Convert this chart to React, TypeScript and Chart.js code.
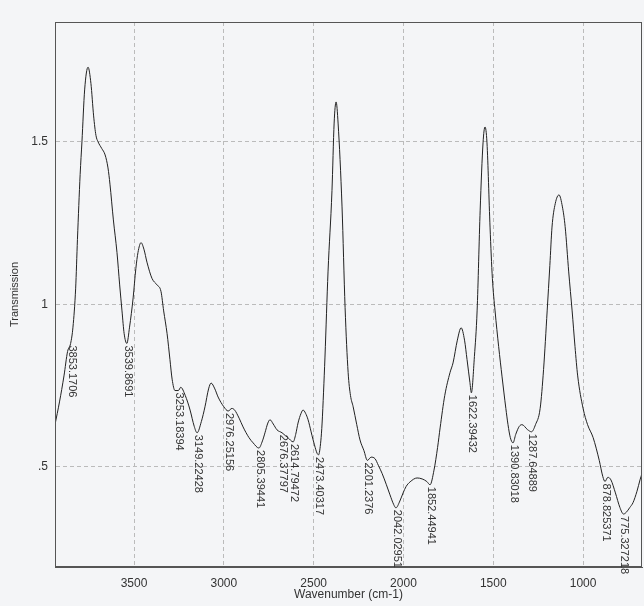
import React, { useEffect, useRef } from 'react';
import { Chart, registerables } from 'chart.js';

Chart.register(...registerables);

const WAVENUMBERS = [
  3940, 3915, 3890, 3870, 3853, 3840, 3825, 3815, 3800, 3790, 3775, 3756, 3740, 3725, 3712, 3700,
  3680, 3661, 3645, 3634, 3615, 3595, 3580, 3567, 3555, 3540, 3525, 3505, 3490, 3478, 3461, 3445,
  3428, 3400, 3372, 3350, 3335, 3316, 3300, 3288, 3272, 3253, 3240, 3215, 3188, 3165, 3149, 3125,
  3105, 3085, 3071, 3050, 3032, 3000, 2976, 2955, 2940, 2915, 2893, 2860, 2837, 2805, 2785, 2771,
  2755, 2743, 2725, 2704, 2676, 2655, 2643, 2614, 2600, 2587, 2570, 2559, 2545, 2531, 2515, 2503,
  2473, 2460, 2453, 2445, 2437, 2420, 2398, 2386, 2375, 2364, 2342, 2325, 2308, 2295, 2280, 2260,
  2242, 2220, 2201, 2180, 2158, 2140, 2119, 2095, 2075, 2055, 2042, 2020, 2002, 1985, 1963, 1924,
  1896, 1870, 1852, 1830, 1810, 1796, 1770, 1741, 1724, 1700, 1679, 1660, 1646, 1630, 1622, 1605,
  1590, 1573, 1557, 1546, 1535, 1518, 1505, 1490, 1470, 1451, 1430, 1418, 1405, 1390, 1375, 1355,
  1340, 1310, 1287, 1265, 1239, 1220, 1200, 1185, 1173, 1155, 1134, 1115, 1100, 1080, 1061, 1045,
  1030, 1000, 975, 944, 910, 890, 878, 862, 845, 820, 795, 775, 760, 740, 722, 700, 683, 672,
];

const TRANSMISSION = [
  0.63, 0.70, 0.78, 0.855, 0.88, 0.93, 1.05, 1.20, 1.40, 1.50, 1.66, 1.73, 1.68, 1.58, 1.52, 1.50,
  1.48, 1.46, 1.42, 1.37, 1.26, 1.16, 1.06, 0.98, 0.91, 0.88, 0.93, 1.02, 1.11, 1.16, 1.19, 1.17,
  1.13, 1.08, 1.06, 1.04, 0.98, 0.91, 0.83, 0.77, 0.735, 0.735, 0.745, 0.72, 0.675, 0.625, 0.605, 0.64,
  0.685, 0.74, 0.758, 0.74, 0.715, 0.685, 0.672, 0.68, 0.675, 0.65, 0.623, 0.59, 0.574, 0.558, 0.58, 0.605,
  0.635, 0.645, 0.632, 0.614, 0.605, 0.595, 0.59, 0.577, 0.60, 0.635, 0.665, 0.675, 0.665, 0.645, 0.61, 0.583,
  0.537, 0.58, 0.635, 0.73, 0.838, 1.10, 1.35, 1.558, 1.623, 1.558, 1.30, 0.99, 0.79, 0.72, 0.685, 0.63,
  0.583, 0.55, 0.52, 0.53, 0.525, 0.505, 0.48, 0.445, 0.414, 0.385, 0.374, 0.395, 0.42, 0.44, 0.454, 0.466,
  0.463, 0.455, 0.445, 0.49, 0.56, 0.62, 0.72, 0.79, 0.82, 0.89, 0.928, 0.89, 0.83, 0.76, 0.728, 0.84,
  0.98, 1.29, 1.497, 1.546, 1.497, 1.238, 1.08, 0.98, 0.87, 0.777, 0.68, 0.63, 0.59, 0.574, 0.60, 0.625,
  0.63, 0.615, 0.608, 0.63, 0.68, 0.80, 0.98, 1.12, 1.238, 1.31, 1.337, 1.30, 1.24, 1.10, 0.98, 0.87,
  0.78, 0.68, 0.63, 0.59, 0.52, 0.47, 0.455, 0.468, 0.46, 0.42, 0.375, 0.355, 0.36, 0.375, 0.39, 0.425, 0.46, 0.48,
];

const PEAK_LABELS = [
  '3853.1706', '3539.8691', '3253.18394', '3149.22428', '2976.25156', '2805.39441', '2676.37797',
  '2614.79472', '2473.40317', '2201.2376', '2042.02951', '1852.44941', '1622.39432', '1390.83018',
  '1287.64889', '878.825371', '775.327218',
];

const X_TICKS = [1000, 1500, 2000, 2500, 3000, 3500];
const Y_TICKS = [0.5, 1, 1.5];
const X_RANGE = [672, 3940];
const Y_RANGE = [0.192, 1.869];

const BG = '#f4f5f7';
const FONT = 'Arial, "Liberation Sans", Helvetica, sans-serif';

function nearestValue(wn: number): number {
  let best = 0;
  let bestD = Infinity;
  WAVENUMBERS.forEach((w, i) => {
    const d = Math.abs(w - wn);
    if (d < bestD) {
      bestD = d;
      best = i;
    }
  });
  return TRANSMISSION[best];
}

const framePlugin = {
  id: 'frame',
  beforeDraw(chart: any) {
    const { ctx, width, height } = chart;
    ctx.save();
    ctx.fillStyle = BG;
    ctx.fillRect(0, 0, width, height);
    ctx.restore();
  },
  afterDatasetsDraw(chart: any) {
    const { ctx, chartArea, scales } = chart;
    ctx.save();
    ctx.strokeStyle = '#555';
    ctx.lineWidth = 1;
    ctx.setLineDash([]);
    ctx.strokeRect(
      Math.round(chartArea.left) + 0.5,
      Math.round(chartArea.top) + 0.5,
      Math.round(chartArea.right - chartArea.left) - 1,
      Math.round(chartArea.bottom - chartArea.top) - 1
    );
    ctx.fillStyle = '#333';
    ctx.font = `11px ${FONT}`;
    ctx.textAlign = 'left';
    ctx.textBaseline = 'middle';
    PEAK_LABELS.forEach((label) => {
      const wn = parseFloat(label);
      const v = nearestValue(wn);
      const x = scales.x.getPixelForValue(wn);
      const y = scales.y.getPixelForValue(v);
      ctx.save();
      ctx.translate(x + 1, y + 2);
      ctx.rotate(Math.PI / 2);
      ctx.fillText(label, 0, 0);
      ctx.restore();
    });
    ctx.restore();
  },
};

export default function App() {
  const canvasRef = useRef<HTMLCanvasElement | null>(null);

  useEffect(() => {
    const canvas = canvasRef.current;
    if (!canvas) return;
    const points = WAVENUMBERS.map((w, i) => ({ x: w, y: TRANSMISSION[i] }));
    const chart = new Chart(canvas, {
      type: 'line',
      data: {
        datasets: [
          {
            data: points,
            borderColor: '#222',
            borderWidth: 1,
            pointRadius: 0,
            fill: false,
            cubicInterpolationMode: 'monotone',
          },
        ],
      },
      options: {
        animation: false,
        responsive: false,
        events: [],
        layout: { padding: { top: 22, right: 2, left: 0, bottom: 0 } },
        plugins: { legend: { display: false }, tooltip: { enabled: false } },
        scales: {
          x: {
            type: 'linear',
            reverse: true,
            min: X_RANGE[0],
            max: X_RANGE[1],
            afterBuildTicks: (s: any) => {
              s.ticks = X_TICKS.map((v) => ({ value: v }));
            },
            afterFit: (s: any) => {
              s.height = 39;
            },
            ticks: {
              autoSkip: false,
              maxRotation: 0,
              padding: 9,
              color: '#333',
              font: { size: 12, family: FONT },
              callback: (v: any) => String(v),
            },
            grid: { color: '#bbbbbb', lineWidth: 1, drawTicks: false },
            border: { display: true, color: '#555', width: 1, dash: [4, 3] },
            title: {
              display: true,
              text: 'Wavenumber (cm-1)',
              color: '#333',
              font: { size: 12, family: FONT },
              padding: { top: 0, bottom: 4 },
            },
          },
          y: {
            type: 'linear',
            min: Y_RANGE[0],
            max: Y_RANGE[1],
            afterBuildTicks: (s: any) => {
              s.ticks = Y_TICKS.map((v) => ({ value: v }));
            },
            afterFit: (s: any) => {
              s.width = 55;
            },
            ticks: {
              padding: 7,
              color: '#333',
              font: { size: 12, family: FONT },
              callback: (v: any) => (v === 0.5 ? '.5' : String(v)),
            },
            grid: { color: '#bbbbbb', lineWidth: 1, drawTicks: false },
            border: { display: true, color: '#555', width: 1, dash: [4, 3] },
            title: {
              display: true,
              text: 'Transmission',
              color: '#333',
              font: { size: 11, family: FONT },
              padding: { top: 8, bottom: 0 },
            },
          },
        },
      },
      plugins: [framePlugin],
    });
    return () => chart.destroy();
  }, []);

  return (
    <div style={{ position: 'fixed', left: 0, top: 0, width: 644, height: 606, background: BG }}>
      <canvas ref={canvasRef} width={644} height={606} style={{ display: 'block' }} />
    </div>
  );
}
